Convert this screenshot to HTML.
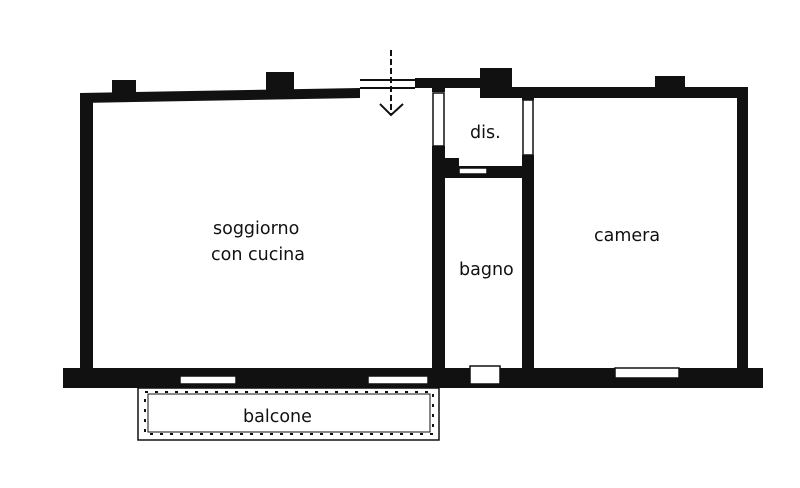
<!DOCTYPE html>
<html><head><style>body{margin:0;background:#fff}svg{display:block}text{font-family:"DejaVu Sans","Liberation Sans",sans-serif;font-size:17.5px;fill:#111}</style></head><body>
<svg width="800" height="488" viewBox="0 0 800 488" xmlns="http://www.w3.org/2000/svg">
<g fill="#111">
<polygon points="80,93 360,88 360,98 80,103"/>
<rect x="112" y="80" width="24" height="14"/>
<rect x="266" y="72" width="28" height="26"/>
<rect x="360" y="79" width="55" height="2"/><rect x="360" y="87" width="55" height="2"/>
<line x1="391" y1="50" x2="391" y2="115" stroke="#111" stroke-width="2" stroke-dasharray="6,3"/>
<polyline points="380,104 391,115 403,104" fill="none" stroke="#111" stroke-width="2"/>
<rect x="415" y="78" width="70" height="10"/>
<rect x="480" y="68" width="32" height="30"/>
<rect x="510" y="87" width="238" height="11"/>
<rect x="655" y="76" width="30" height="14"/>
<rect x="80" y="93" width="13" height="280"/>
<rect x="737" y="88" width="11" height="282"/>
<rect x="432" y="86" width="13" height="6"/>
<rect x="432" y="146" width="13" height="222"/>
<rect x="445" y="158" width="14" height="14"/>
<rect x="445" y="166" width="85" height="12"/>
<rect x="522" y="92" width="12" height="8"/>
<rect x="522" y="155" width="12" height="213"/>
<rect x="63" y="368" width="700" height="20"/>
</g>
<g fill="#fff" stroke="#111" stroke-width="1.5">
<rect x="433" y="93" width="11" height="53"/>
<rect x="523" y="100" width="10" height="55"/>
<rect x="459" y="168" width="28" height="6"/>
<rect x="180" y="376" width="56" height="8"/>
<rect x="368" y="376" width="60" height="8"/>
<rect x="470" y="366" width="30" height="18"/>
<rect x="615" y="368" width="64" height="10"/>
</g>
<rect x="138" y="388" width="301" height="52" fill="none" stroke="#111" stroke-width="1.5"/>
<rect x="145" y="392" width="288" height="42" fill="none" stroke="#111" stroke-width="2" stroke-dasharray="3,7"/>
<rect x="148" y="394" width="282" height="38" fill="none" stroke="#111" stroke-width="1"/>
<text x="243" y="422">balcone</text>
<text x="470" y="138">dis.</text>
<text x="213" y="234">soggiorno</text>
<text x="211" y="260">con cucina</text>
<text x="459" y="275">bagno</text>
<text x="594" y="241">camera</text>
</svg>
</body></html>
